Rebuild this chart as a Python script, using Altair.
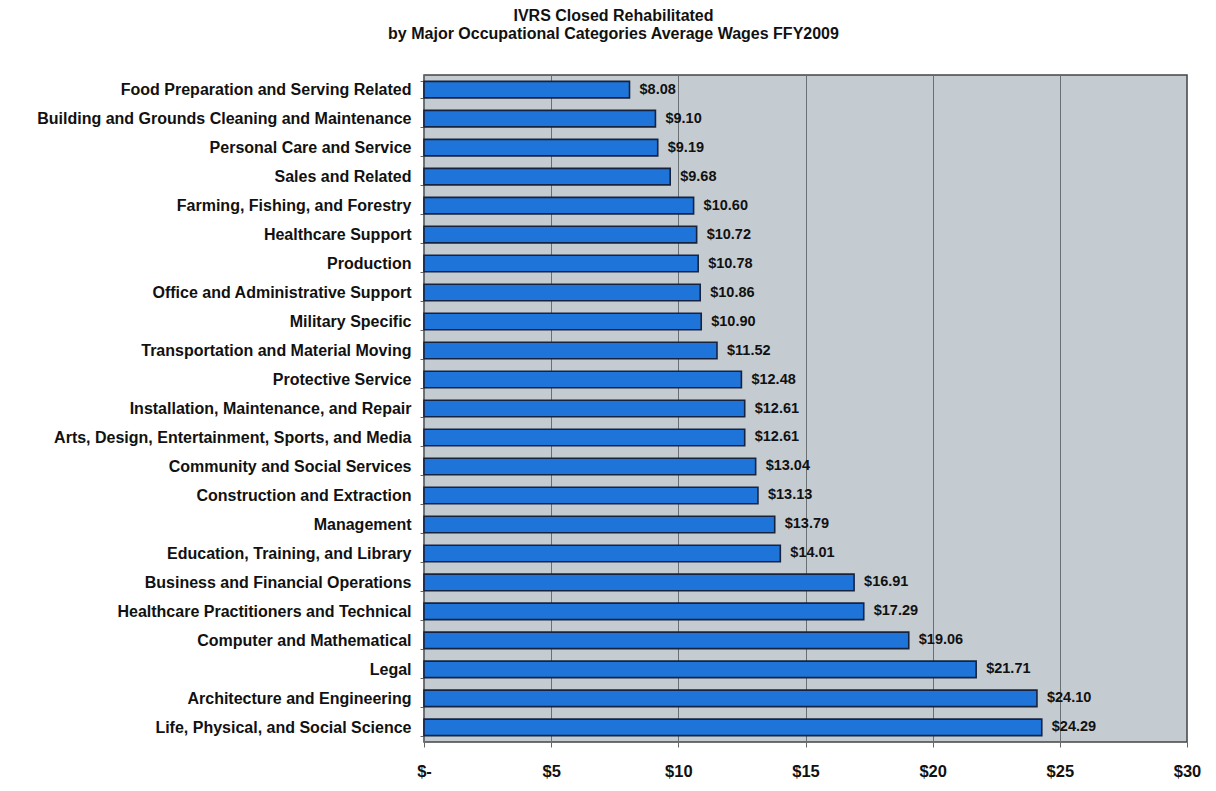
import altair as alt
import pandas as pd

categories = [
    "Food Preparation and Serving Related",
    "Building and Grounds Cleaning and Maintenance",
    "Personal Care and Service",
    "Sales and Related",
    "Farming, Fishing, and Forestry",
    "Healthcare Support",
    "Production",
    "Office and Administrative Support",
    "Military Specific",
    "Transportation and Material Moving",
    "Protective Service",
    "Installation, Maintenance, and Repair",
    "Arts, Design, Entertainment, Sports, and Media",
    "Community and Social Services",
    "Construction and Extraction",
    "Management",
    "Education, Training, and Library",
    "Business and Financial Operations",
    "Healthcare Practitioners and Technical",
    "Computer and Mathematical",
    "Legal",
    "Architecture and Engineering",
    "Life, Physical, and Social Science",
]
wages = [8.08, 9.10, 9.19, 9.68, 10.60, 10.72, 10.78, 10.86, 10.90, 11.52,
         12.48, 12.61, 12.61, 13.04, 13.13, 13.79, 14.01, 16.91, 17.29,
         19.06, 21.71, 24.10, 24.29]
x_ticks = [0, 5, 10, 15, 20, 25, 30]

df = pd.DataFrame({"category": categories, "wage": wages})

FONT = "Liberation Sans"

y_enc = alt.Y(
    "category:N",
    sort=categories,
    title=None,
    scale=alt.Scale(paddingInner=0.43, paddingOuter=0.22),
    axis=alt.Axis(
        labelFont=FONT, labelFontSize=16, labelFontWeight="bold",
        labelColor="#111111", labelLimit=600, labelPadding=9,
        tickSize=4, tickColor="#666666", tickBand="extent", domain=False,
        minExtent=416, maxExtent=416, grid=False,
    ),
)
x_enc = alt.X(
    "wage:Q",
    title=None,
    scale=alt.Scale(domain=[0, 30], nice=False),
    axis=alt.Axis(
        values=x_ticks,
        labelExpr="datum.value == 0 ? '$-' : '$' + datum.value",
        labelFont=FONT, labelFontSize=16.5, labelFontWeight="bold",
        labelColor="#111111", labelPadding=16, tickSize=5, labelFlush=False,
        tickColor="#666666", domain=False,
        grid=True, gridColor="#6a6f74", gridWidth=1,
    ),
)

bars = alt.Chart(df).mark_bar(
    color="#1e74d8", stroke="#16233f", strokeWidth=1.6
).encode(x=x_enc, y=y_enc)

labels = alt.Chart(df).mark_text(
    align="left", baseline="middle", dx=10,
    font=FONT, fontSize=14.5, fontWeight="bold", color="#111111"
).encode(
    x=alt.X("wage:Q"),
    y=alt.Y("category:N", sort=categories),
    text=alt.Text("wage:Q", format="$.2f"),
)

chart = (
    alt.layer(bars, labels)
    .properties(
        width=763,
        height=667,
        padding={"left": 0, "top": 0, "right": 5, "bottom": 5},
        view=alt.ViewBackground(fill="#c5ccd1", stroke="#444444", strokeWidth=1.5),
        title=alt.TitleParams(
            text=["IVRS Closed Rehabilitated",
                  "by Major Occupational Categories Average Wages FFY2009"],
            font=FONT, fontSize=16, fontWeight="bold", color="#111111",
            anchor="middle", frame="group", dx=-192, dy=-7, lineHeight=18, offset=18,
        ),
    )
    .configure(background="white")
)

chart.save("out.html", embed_options={"renderer": "svg", "actions": False})
